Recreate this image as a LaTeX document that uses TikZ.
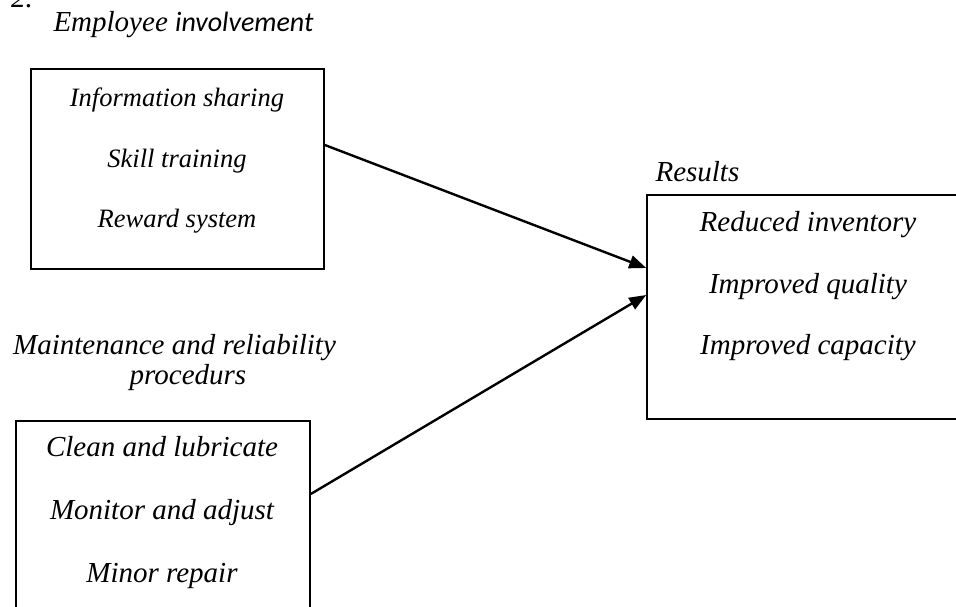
\documentclass[tikz,border=0pt]{standalone}
\usepackage{fontspec}
\setmainfont{Liberation Serif}
\newfontfamily\sansit{Carlito}
\usetikzlibrary{positioning,arrows.meta}

\begin{document}
\begin{tikzpicture}[x=1pt,y=1pt,font=\fontsize{29}{35}\selectfont\itshape,
  >={Triangle[length=17pt,width=13pt]},
  box/.style={draw,line width=1.6pt,inner sep=0pt},
  entry/.style={anchor=base},
  small/.style={font=\fontsize{26.5}{32}\selectfont\itshape},
  link/.style={->,line width=2.4pt}]
  \useasboundingbox (0,0) rectangle (956,607);
  \clip (0,0) rectangle (956,607);
  % headings
  \node[entry] (num) at (22,599.5) {2.};
  \node[entry] (emphead) at (183.5,575) {Employee {\sansit\fontsize{28}{34}\selectfont involvement}};
  \node[entry,anchor=base west] (reshead) at (652,425) {Results};
  \node[entry] (mnthead1) at (174.5,252) {Maintenance and reliability};
  \node[entry] (mnthead2) at (188,222) {procedurs};
  % boxes
  \node[box,minimum width=293pt,minimum height=200pt] (emp) at (177.5,438) {};
  \node[box,minimum width=330pt,minimum height=224pt] (res) at (812,300) {};
  \node[box,minimum width=294pt,minimum height=220pt] (mnt) at (163,76) {};
  % entries
  \foreach \t [count=\i] in {Information sharing,Skill training,Reward system}
    \node[entry,small] (emp\i) at (177,{500-60.5*(\i-1)}) {\t};
  \foreach \t [count=\i] in {Reduced inventory,Improved quality,Improved capacity}
    \node[entry] (res\i) at (808,{375-61.5*(\i-1)}) {\t};
  \foreach \t [count=\i] in {Clean and lubricate,Monitor and adjust,Minor repair}
    \node[entry] (mnt\i) at (162,{150-63*(\i-1)}) {\t};
  % links
  \draw[link] ([yshift=24pt]emp.east) -- ([yshift=39pt]res.west);
  \draw[link] ([yshift=37pt]mnt.east) -- ([yshift=12pt]res.west);
\end{tikzpicture}
\end{document}
